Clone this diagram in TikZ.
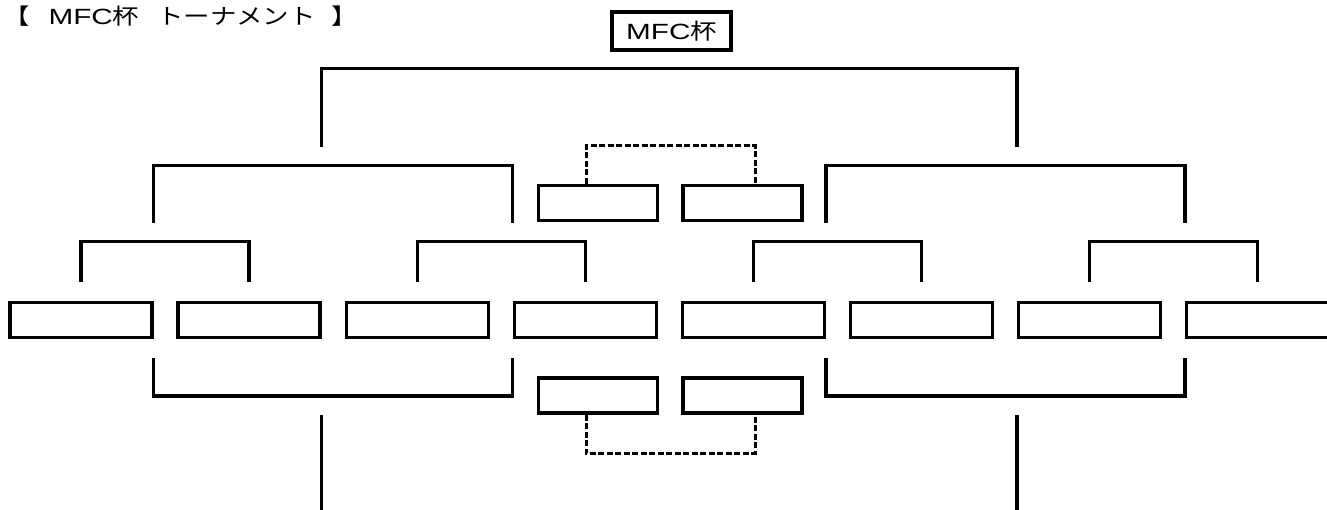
\documentclass[tikz,border=0pt]{standalone}
\usepackage{fontspec}
\setmainfont[FakeStretch=1.2]{Noto Sans CJK JP}
\newfontfamily\widelatin[FakeStretch=1.35]{Liberation Sans}
\usetikzlibrary{positioning}

\tikzset{
    entry/.style={draw, line width=3.3pt, minimum width=142pt, minimum height=35pt, inner sep=0pt},
    semibox/.style={draw, line width=3.3pt, minimum width=119pt, minimum height=35pt, inner sep=0pt},
    bracket/.style={line width=3.3pt},
    consol/.style={line width=3pt, dash pattern=on 6pt off 2.5pt},
}

\begin{document}
\begin{tikzpicture}[x=1pt, y=1pt]
    \useasboundingbox (0,0) rectangle (1327,510);
    \clip (0,0) rectangle (1327,510);

    \node[anchor=west, inner sep=0pt, font=\fontsize{22}{26}\selectfont] (title) at (3,494) {【\hspace{19pt}{\widelatin MFC}杯\hspace{18pt}トーナメント\hspace{16pt}】};
    \node[draw, line width=4pt, minimum width=119pt, minimum height=38pt, inner sep=0pt, font=\fontsize{22}{26}\selectfont] (cup) at (671.5,479) {{\widelatin MFC}杯};

    % first round
    \foreach \i in {1,...,8}
        \node[entry] (b\i) at ({81+168.1*(\i-1)},190) {};

    % third place / semifinal boxes
    \node[semibox] (s1) at (598,307) {};
    \node[semibox] (s2) at (742.5,307) {};
    \node[semibox] (t1) at (598,114.5) {};
    \node[semibox] (t2) at (742.5,114.5) {};

    \foreach \a/\b in {1/2,3/4,5/6,7/8}
        \draw[bracket] ([yshift=19pt]b\a.north) -- ([yshift=59pt]b\a.north) -| ([yshift=19pt]b\b.north);

    \draw[bracket] ([yshift=78pt]b1.north east) -- ([yshift=135pt]b1.north east) -| ([yshift=78pt]b4.north west);
    \draw[bracket] ([yshift=78pt]b5.north east) -- ([yshift=135pt]b5.north east) -| ([yshift=78pt]b8.north west);
    \draw[bracket] ([yshift=154pt]b2.north east) -- ([yshift=232pt]b2.north east) -| ([yshift=154pt]b7.north west);

    \draw[bracket] ([yshift=-19pt]b1.south east) -- ([yshift=-57pt]b1.south east) -| ([yshift=-19pt]b4.south west);
    \draw[bracket] ([yshift=-19pt]b5.south east) -- ([yshift=-57pt]b5.south east) -| ([yshift=-19pt]b8.south west);
    \draw[bracket] ([yshift=-76pt]b2.south east) -- ([yshift=-180pt]b2.south east);
    \draw[bracket] ([yshift=-76pt]b7.south west) -- ([yshift=-180pt]b7.south west);

    \draw[consol] ([xshift=-12pt]s1.north) -- ++(0,38) -| ([xshift=12.5pt]s2.north);
    \draw[consol] ([xshift=-12pt]t1.south) -- ++(0,-38.6) -| ([xshift=12.5pt]t2.south);
\end{tikzpicture}
\end{document}
